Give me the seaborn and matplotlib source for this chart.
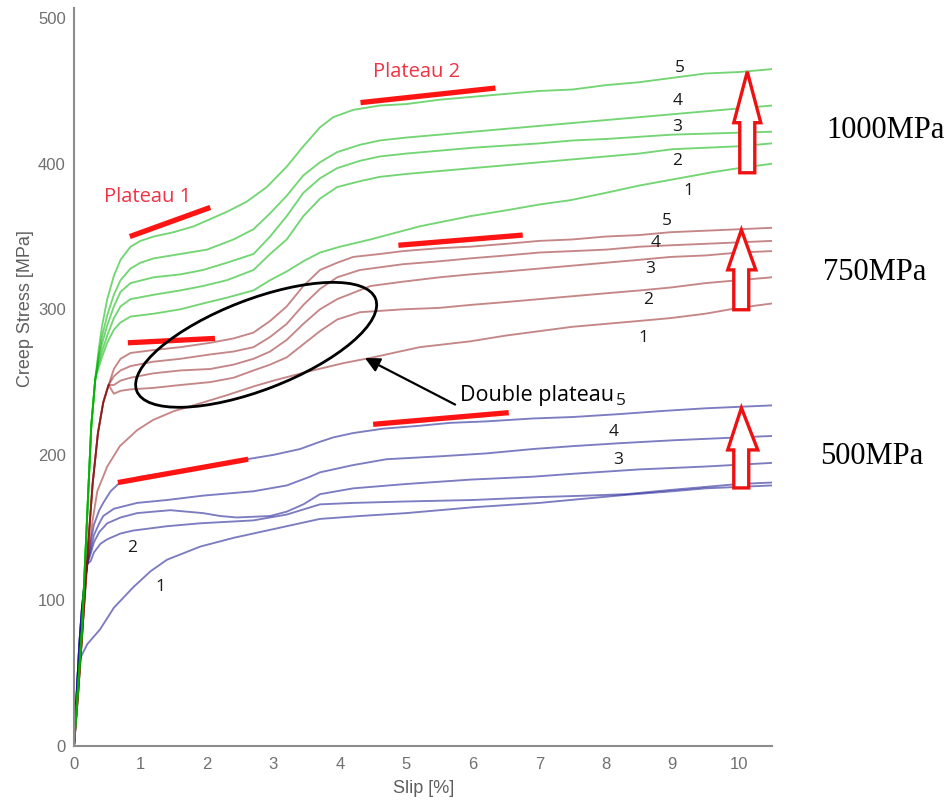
import matplotlib
matplotlib.use("Agg")
import matplotlib.pyplot as plt
import seaborn as sns
import pandas as pd
from matplotlib.patches import Ellipse, Polygon
from matplotlib.transforms import ScaledTranslation

sns.set_theme(style="white")
plt.rcParams["font.family"] = ["Liberation Sans", "DejaVu Sans"]

# ---------------- data (slip %, creep stress MPa) ----------------
g_start_x = [0, 0.06, 0.12, 0.2, 0.26, 0.32]
g_start_y = [0, 40, 80, 160, 220, 252]

g5_x = [0.37, 0.42, 0.5, 0.6, 0.7, 0.85, 1.0, 1.2, 1.5, 1.8, 2.05, 2.3, 2.6, 2.9, 3.2, 3.45, 3.7, 3.9, 4.2, 4.6, 5.0, 5.5, 6.0, 6.5, 7.0, 7.5, 8.0, 8.5, 9.0, 9.5, 10.0, 10.5]
g5_y = [272, 288, 307, 323, 334, 343, 347, 350, 353, 357, 362, 367, 374, 384, 398, 412, 425, 432, 437, 440, 441, 444, 446, 448, 450, 451, 454, 456, 459, 462, 463, 465]
g4_x = [0.37, 0.42, 0.5, 0.6, 0.7, 0.85, 1.0, 1.2, 1.6, 2.0, 2.4, 2.7, 2.95, 3.2, 3.45, 3.7, 3.96, 4.3, 4.6, 5.0, 5.5, 6.0, 6.5, 7.0, 7.5, 8.0, 8.5, 9.0, 9.5, 10.0, 10.5]
g4_y = [268, 281, 296, 310, 320, 328, 332, 335, 338, 341, 348, 355, 366, 378, 392, 401, 408, 413, 416, 418, 420, 422, 424, 426, 428, 430, 432, 434, 436, 438, 440]
g3_x = [0.37, 0.42, 0.5, 0.6, 0.7, 0.85, 1.2, 1.6, 1.94, 2.3, 2.7, 2.95, 3.2, 3.45, 3.7, 3.96, 4.3, 4.6, 5.0, 5.5, 6.0, 7.0, 7.5, 8.0, 9.0, 10.5]
g3_y = [266, 276, 289, 302, 312, 318, 322, 324, 327, 332, 338, 350, 364, 380, 390, 397, 402, 405, 407, 409, 411, 414, 416, 417, 420, 422]
g2_x = [0.37, 0.42, 0.5, 0.6, 0.7, 0.85, 1.2, 1.6, 1.94, 2.3, 2.7, 2.95, 3.2, 3.45, 3.7, 3.96, 4.3, 4.6, 5.0, 5.5, 6.0, 6.5, 7.0, 7.5, 8.0, 8.5, 9.0, 9.5, 10.0, 10.5]
g2_y = [263, 271, 282, 294, 302, 307, 310, 313, 316, 320, 327, 338, 348, 364, 376, 384, 388, 391, 393, 395, 397, 399, 401, 403, 405, 407, 410, 411, 412, 414]
g1_x = [0.37, 0.42, 0.5, 0.6, 0.7, 0.85, 1.2, 1.6, 1.94, 2.3, 2.7, 2.95, 3.2, 3.45, 3.7, 4.0, 4.46, 5.2, 5.96, 6.5, 7.0, 7.47, 8.0, 8.5, 8.98, 9.58, 10.0, 10.5]
g1_y = [260, 267, 277, 286, 291, 295, 297, 300, 304, 308, 313, 320, 326, 333, 339, 343, 348, 357, 364, 368, 372, 375, 380, 385, 389, 394, 397, 400]

b_start_x = [0, 0.06, 0.12, 0.2, 0.28, 0.36, 0.44, 0.52]
b_start_y = [0, 35, 75, 130, 180, 215, 236, 248]

b5_x = [0.6, 0.7, 0.85, 1.19, 1.6, 2.05, 2.4, 2.7, 2.95, 3.2, 3.45, 3.7, 3.96, 4.2, 4.6, 4.95, 5.5, 5.96, 6.5, 7.0, 7.5, 8.0, 8.5, 8.98, 9.5, 10.0, 10.5]
b5_y = [259, 266, 270, 272, 274, 277, 280, 284, 292, 302, 316, 327, 332, 336, 338, 340, 342, 343, 345, 347, 348, 350, 351, 353, 354, 355, 356]
b4_x = [0.6, 0.7, 0.85, 1.19, 1.6, 2.05, 2.4, 2.7, 2.95, 3.2, 3.45, 3.7, 3.96, 4.3, 4.95, 5.5, 5.96, 6.5, 7.0, 7.5, 8.0, 8.5, 8.98, 9.5, 10.0, 10.5]
b4_y = [254, 258, 261, 264, 266, 269, 271, 274, 281, 290, 303, 314, 322, 327, 331, 333, 335, 337, 339, 340, 341, 343, 344, 345, 346, 347]
b3_x = [0.6, 0.7, 0.85, 1.19, 1.6, 2.05, 2.4, 2.7, 2.95, 3.2, 3.45, 3.7, 3.96, 4.46, 4.95, 5.5, 5.96, 6.5, 7.0, 7.5, 8.0, 8.5, 8.98, 9.5, 10.0, 10.5]
b3_y = [248, 251, 253, 256, 258, 259, 262, 266, 271, 279, 290, 300, 307, 316, 319, 322, 324, 326, 328, 330, 332, 334, 336, 337, 339, 340]
b2_x = [0.6, 0.7, 0.85, 1.19, 1.6, 2.05, 2.4, 2.7, 2.95, 3.2, 3.45, 3.7, 3.96, 4.3, 4.95, 5.5, 5.96, 6.5, 7.0, 7.5, 8.0, 8.52, 8.98, 9.5, 10.0, 10.5]
b2_y = [242, 244, 245, 246, 248, 250, 253, 258, 262, 267, 276, 285, 293, 298, 300, 301, 303, 305, 307, 309, 311, 313, 315, 318, 320, 322]
b1_x = [0, 0.06, 0.12, 0.2, 0.28, 0.35, 0.5, 0.69, 0.95, 1.19, 1.5, 1.94, 2.3, 2.7, 3.0, 3.5, 4.05, 4.5, 5.2, 5.96, 6.5, 7.0, 7.5, 8.0, 8.5, 8.98, 9.5, 10.0, 10.5]
b1_y = [0, 35, 75, 125, 155, 175, 192, 206, 217, 224, 230, 236, 241, 247, 251, 257, 263, 267, 274, 278, 282, 285, 288, 290, 292, 294, 297, 301, 304]

u_start_x = [0, 0.04, 0.08, 0.12, 0.16, 0.2]
u_start_y = [0, 35, 70, 95, 112, 125]

u5_x = [0.25, 0.3, 0.38, 0.44, 0.55, 0.69, 1.0, 1.45, 2.0, 2.6, 3.0, 3.4, 3.7, 3.9, 4.2, 4.65, 5.2, 5.66, 6.2, 6.9, 7.5, 8.2, 8.8, 9.5, 10.0, 10.5]
u5_y = [140, 152, 162, 167, 175, 181, 185, 188, 192, 197, 200, 204, 209, 212, 215, 218, 220, 222, 223, 225, 226, 228, 230, 232, 233, 234]
u4_x = [0.25, 0.3, 0.38, 0.44, 0.6, 0.95, 1.4, 1.94, 2.7, 3.2, 3.55, 3.7, 4.2, 4.7, 5.5, 6.2, 6.9, 7.5, 8.2, 9.0, 9.5, 10.0, 10.5]
u4_y = [135, 145, 153, 158, 163, 167, 169, 172, 175, 179, 185, 188, 193, 197, 199, 201, 204, 206, 208, 210, 211, 212, 213]
u3_x = [0.25, 0.3, 0.38, 0.5, 0.7, 0.95, 1.45, 1.94, 2.2, 2.45, 2.95, 3.2, 3.45, 3.7, 4.2, 5.0, 5.96, 6.9, 7.5, 8.5, 9.5, 10.5]
u3_y = [132, 140, 147, 153, 157, 160, 162, 160, 158, 157, 158, 161, 166, 173, 177, 180, 183, 185, 187, 190, 192, 194.5]
u2_x = [0.25, 0.3, 0.4, 0.5, 0.7, 0.89, 1.4, 1.9, 2.7, 3.2, 3.7, 4.2, 5.0, 6.0, 7.0, 7.7, 8.3, 9.0, 9.5, 10.0, 10.5]
u2_y = [127, 133, 139, 142, 146, 148, 151, 153, 155, 159, 166, 167, 168, 169, 171, 172, 173, 176, 178, 180, 181]
u1_x = [0, 0.03, 0.06, 0.09, 0.2, 0.39, 0.6, 0.89, 1.15, 1.4, 1.9, 2.4, 2.9, 3.3, 3.7, 4.3, 5.0, 6.0, 7.0, 7.7, 8.3, 9.0, 9.5, 10.0, 10.5]
u1_y = [0, 30, 52, 60, 70, 80, 95, 109, 120, 128, 137, 143, 148, 152, 156, 158, 160, 164, 167, 170, 172.5, 175, 177, 178, 179]

# plateau marker segments
plateau_x0 = [0.84, 0.81, 0.66, 4.31, 4.88, 4.50]
plateau_x1 = [2.05, 2.12, 2.62, 6.34, 6.75, 6.54]
plateau_y0 = [350, 277, 181, 442, 344, 221]
plateau_y1 = [370, 280, 197, 452, 351, 229]

# curve number labels
num_text = ["5", "4", "3", "2", "1", "5", "4", "3", "2", "1", "5", "4", "3", "2", "1"]
num_x = [9.11, 9.08, 9.07, 9.07, 9.25, 8.92, 8.75, 8.67, 8.64, 8.57, 8.22, 8.12, 8.18, 0.87, 1.30]
num_y = [466, 443, 425, 402, 381, 360.5, 345.7, 328, 306.5, 280, 237, 216, 196.6, 136, 109]

# ---------------- figure ----------------
fig = plt.figure(figsize=(9.46, 8), dpi=100)
ax = fig.add_axes([74 / 946, 54 / 800, 698 / 946, 738 / 800])

GREEN = "#00b400"
BROWN = "#8b0f0f"
BLUE = "#10108f"
LW = 1.35


def draw(xs, ys, color, alpha):
    df = pd.DataFrame({"slip": xs, "stress": ys})
    sns.lineplot(data=df, x="slip", y="stress", ax=ax, color=color, alpha=alpha,
                 lw=LW, sort=False, estimator=None, legend=False)


draw(u1_x, u1_y, BLUE, 0.55)
for cx, cy in [(u2_x, u2_y), (u3_x, u3_y), (u4_x, u4_y), (u5_x, u5_y)]:
    draw(u_start_x + cx, u_start_y + cy, BLUE, 0.55)
draw(b1_x, b1_y, BROWN, 0.5)
for cx, cy in [(b2_x, b2_y), (b3_x, b3_y), (b4_x, b4_y), (b5_x, b5_y)]:
    draw(b_start_x + cx, b_start_y + cy, BROWN, 0.5)
for cx, cy in [(g1_x, g1_y), (g2_x, g2_y), (g3_x, g3_y), (g4_x, g4_y), (g5_x, g5_y)]:
    draw(g_start_x + cx, g_start_y + cy, GREEN, 0.55)

# axes style (MATLAB-like)
ax.set_xlim(0, 10.5)
ax.set_ylim(0, 507)
ax.set_xticks(range(0, 11))
ax.set_yticks(range(0, 501, 100))
for s in ["top", "right"]:
    ax.spines[s].set_visible(False)
for s in ["left", "bottom"]:
    ax.spines[s].set_color("#8c8c8c")
    ax.spines[s].set_linewidth(1.5)
ax.tick_params(direction="in", length=5, width=1.2, color="#8c8c8c",
               labelcolor="#707070", labelsize=12)
ax.tick_params(axis="x", pad=8)
ax.tick_params(axis="y", pad=6)
ax.set_xlabel("Slip [%]", fontsize=13, color="#5e5e5e")
ax.set_ylabel("Creep Stress [MPa]", fontsize=13, color="#5e5e5e")
ax.xaxis.set_label_coords(0.501, -0.046)
ax.yaxis.set_label_coords(-0.058, 0.593)
ax.grid(False)

# plateau markers
RED = "#ff1414"
for x0, x1, y0, y1 in zip(plateau_x0, plateau_x1, plateau_y0, plateau_y1):
    ax.plot([x0, x1], [y0, y1], color=RED, lw=3.8, solid_capstyle="butt", zorder=5)

ax.text(1.11, 377, "Plateau 1", color="#ee3344", fontsize=14.5, family=["Open Sans"],
        ha="center", va="center")
ax.text(5.15, 463, "Plateau 2", color="#ee3344", fontsize=14.5, family=["Open Sans"],
        ha="center", va="center")

# ellipse around double plateau (drawn in screen inches around a data centre)
tr = fig.dpi_scale_trans + ScaledTranslation(2.74, 275.6, ax.transData)
ax.add_patch(Ellipse((0, 0), 2.56, 0.904, angle=21.1, transform=tr, fill=False,
                     ec="black", lw=2.0, zorder=6, clip_on=False))

ax.annotate("", xy=(4.34, 267.4), xytext=(5.77, 233.7),
            arrowprops=dict(arrowstyle="-|>", color="black", lw=1.6, mutation_scale=22),
            zorder=6)
ax.text(5.81, 241, "Double plateau", fontsize=15.5, family=["Open Sans"], color="black",
        ha="left", va="center", zorder=6)

for t, x, y in zip(num_text, num_x, num_y):
    ax.text(x, y, t, fontsize=12.5, family=["Open Sans"], color="#1a1a1a",
            ha="center", va="center", zorder=6)


# hollow red arrows
def up_arrow(xl_head, xl_shaft, xc, xr_shaft, xr_head, y_tip, y_base, y_bot):
    pts = [(xc, y_tip), (xr_head, y_base), (xr_shaft, y_base), (xr_shaft, y_bot),
           (xl_shaft, y_bot), (xl_shaft, y_base), (xl_head, y_base)]
    ax.add_patch(Polygon(pts, closed=True, fc="white", ec="#ee1111", lw=2.4,
                         joinstyle="miter", zorder=7, clip_on=False))


up_arrow(9.925, 10.015, 10.128, 10.241, 10.331, 463.2, 428.2, 393.8)
up_arrow(9.834, 9.925, 10.04, 10.15, 10.256, 354.6, 327.1, 299.7)
up_arrow(9.834, 9.925, 10.04, 10.15, 10.286, 232.3, 203.4, 177.3)

# stress level labels on the right
for txt, px, py in [("1000MPa", 826, 131), ("750MPa", 823, 272), ("500MPa", 820, 457)]:
    fig.text(px / 946, 1 - py / 800, txt, fontsize=22, family=["Liberation Serif"],
             color="black", ha="left", va="center")

fig.savefig("out.png", dpi=100, facecolor="white")
